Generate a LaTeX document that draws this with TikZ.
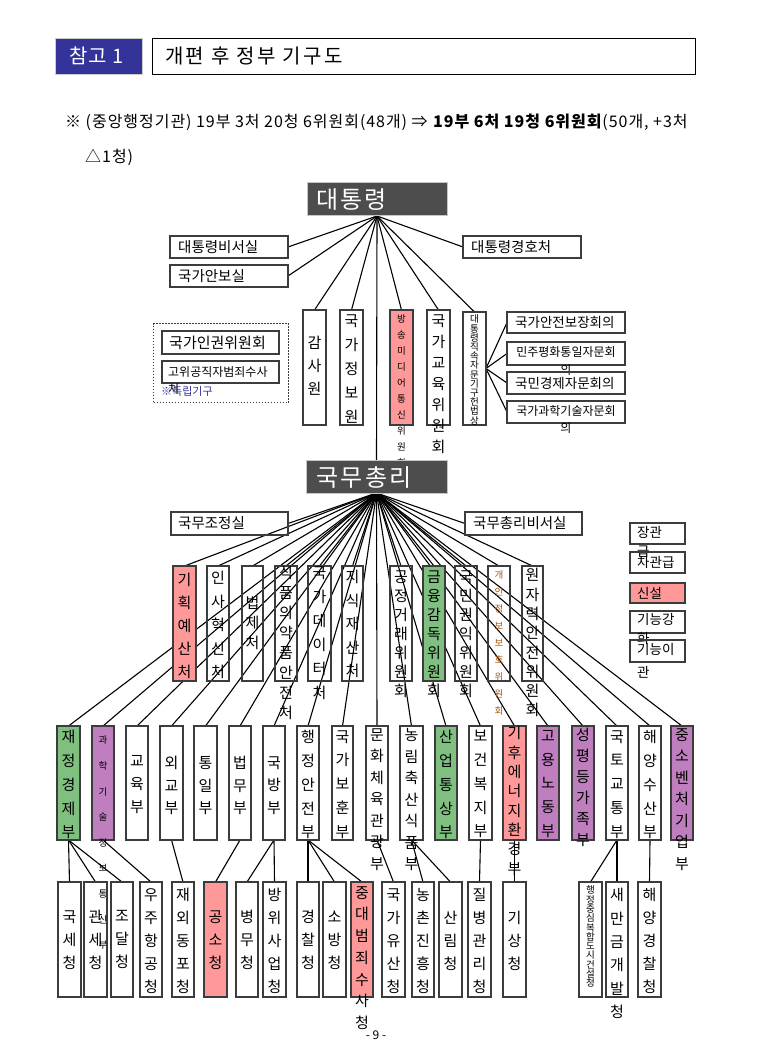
\documentclass[tikz,border=0pt]{standalone}
\usepackage{fontspec}
\setmainfont{Noto Sans CJK KR}
\pgfdeclarelayer{back}
\pgfdeclarelayer{lines}
\pgfsetlayers{back,lines,main}
\definecolor{bd}{HTML}{3C3C3C}
\definecolor{pinkc}{HTML}{FF9999}
\definecolor{greenc}{HTML}{7FBF7F}
\definecolor{vio}{HTML}{BF7FBF}
\definecolor{darkc}{HTML}{4D4D4D}
\definecolor{navy}{HTML}{333399}
\definecolor{orng}{HTML}{A85A10}
\newcommand\kvf[2]{\fontsize{#1}{#2}\selectfont\lineskiplimit=-100pt\lineskip=0pt\relax}
\newcommand\orgv[9]{%
 \node[#2,anchor=north west,minimum width={(#4-#3)*1pt},minimum height={(#6-#5)*1pt}] (#1) at (#3,#5) {};
 \node[#8] (#1t) at ({(#3+#4)/2},#7) {#9};}
\newcommand\orgh[9]{%
 \node[#2,anchor=north west,minimum width={(#4-#3)*1pt},minimum height={(#6-#5)*1pt}] (#1) at (#3,#5) {};
 \node[ht=#8] (#1t) at (#7,{(#5+#6)/2}) {#9};}
\tikzset{
 ln/.style={line width=1.1pt, black},
 bx/.style={draw=bd, line width=1.4pt, inner sep=0pt, outer sep=0pt},
 wbox/.style={bx},
 pbox/.style={bx, fill=pinkc},
 gbox/.style={bx, fill=greenc},
 vbx/.style={bx, fill=vio},
 dbox/.style={draw=gray!45, line width=1pt, fill=darkc, inner sep=0pt, outer sep=0pt},
 vt/.style={anchor=north, align=center, inner sep=0pt, yshift=6.7pt, font={\kvf{15}{#1}}},
 vs/.style={anchor=north, align=center, inner sep=0pt, yshift=4.2pt, font={\kvf{9.5}{#1}}},
 ht/.style={anchor=west, inner sep=0pt, font={\kvf{#1}{#1}}},
 lt/.style={anchor=north west, align=left, inner sep=0pt, yshift=6pt, font={\kvf{13.5}{#1}}},
}
\begin{document}
\begin{tikzpicture}[x=1pt,y=-1pt]
\useasboundingbox (0,0) rectangle (759,1048);
\begin{pgfonlayer}{back}
\fill[white] (0,0) rectangle (759,1048);
\end{pgfonlayer}
% header
\node[fill=navy, draw=gray!40, line width=0.8pt, anchor=north west, minimum width=87pt, minimum height=36pt, inner sep=0pt] (ref) at (55,38) {};
\node[anchor=west, inner sep=0pt, text=white, font={\kvf{20}{20}\addfontfeature{LetterSpace=5}}] (reft) at (69,56) {참고 1};
\node[draw=black, line width=1pt, anchor=north west, minimum width=543pt, minimum height=36pt, inner sep=0pt] (title) at (152,38) {};
\node[anchor=west, inner sep=0pt, font={\kvf{20}{20}\addfontfeature{LetterSpace=12}}] (titlet) at (165,56) {개편 후 정부 기구도};
\node[anchor=west, inner sep=0pt, font={\kvf{16}{16}\addfontfeature{LetterSpace=6}}] (note1) at (65,122) {※ (중앙행정기관) 19부 3처 20청 6위원회(48개) ⇒ \textbf{19부 6처 19청 6위원회}(50개, +3처};
\node[anchor=west, inner sep=0pt, font={\kvf{16}{16}\addfontfeature{LetterSpace=6}}] (note2) at (85,157) {△1청)};
% president level
\orgh{sec}{wbox}{170}{288}{236}{258}{178}{14.5}{대통령비서실}
\orgh{nsa}{wbox}{170}{288}{265}{287}{178}{14.5}{국가안보실}
\orgh{pss}{wbox}{463}{581}{236}{258}{471}{14.5}{대통령경호처}
% independent
\node[draw=bd, line width=1pt, dash pattern=on 1.5pt off 1.5pt, anchor=north west, minimum width=135pt, minimum height=79pt, inner sep=0pt] (indep) at (153,323) {};
\orgh{nhrc}{wbox}{162}{279}{331}{354}{169}{15}{국가인권위원회}
\node[wbox, anchor=north west, minimum width=117pt, minimum height=22pt] (cio) at (162,361) {};
\node[anchor=north west, align=left, inner sep=0pt, yshift=5.5pt, font={\kvf{12}{17}}] (ciot) at (168,372) {고위공직자범죄수사\\처};
\node[anchor=west, inner sep=0pt, font={\kvf{11}{11}}, text=navy] (indept) at (161,391) {※독립기구};
% committees
\orgv{gam}{wbox}{303}{326}{310}{425}{343}{vt=23}{감\\사\\원}
\orgv{nis}{wbox}{340}{363}{310}{425}{321}{vt=24}{국\\가\\정\\보\\원}
\orgv{bang}{pbox}{390}{413}{310}{425}{319}{vs=16}{방\\송\\미\\디\\어\\통\\신\\위\\원\\회}
\orgv{edu}{wbox}{427}{450}{310}{425}{321}{vt=21}{국\\가\\교\\육\\위\\원\\회}
\orgv{adv}{wbox}{463}{486}{312}{425}{319}{vs=9.2}{대\\통\\령\\직\\속\\자\\문\\기\\구\\헌\\법\\상}
\orgh{nsc}{wbox}{507}{625}{312}{333}{515}{13.5}{국가안전보장회의}
\node[wbox, anchor=north west, minimum width=118pt, minimum height=23pt] (pua) at (507,342) {};
\node[anchor=north, align=center, inner sep=0pt, yshift=5.5pt, font={\kvf{12}{18}}] (puat) at (566,352) {민주평화통일자문회\\의};
\orgh{nec}{wbox}{507}{625}{372}{394}{515}{13.5}{국민경제자문회의}
\node[wbox, anchor=north west, minimum width=118pt, minimum height=22pt] (pacst) at (507,401) {};
\node[anchor=north, align=center, inner sep=0pt, yshift=5.5pt, font={\kvf{12}{17}}] (pacstt) at (566,411) {국가과학기술자문회\\의};
% PM level
\orgh{opm}{wbox}{171}{288}{512}{535}{178}{14.5}{국무조정실}
\orgh{pmsec}{wbox}{465}{582}{512}{535}{473}{14.5}{국무총리비서실}
% row 2
\orgv{gi}{pbox}{173}{196}{566}{681}{580}{vt=23}{기\\획\\예\\산\\처}
\orgv{insa}{wbox}{207}{229}{566}{681}{578}{vt=23.5}{인\\사\\혁\\신\\처}
\orgv{beop}{wbox}{242}{263}{566}{681}{603}{vt=20}{법\\제\\처}
\orgv{food}{wbox}{275}{297}{566}{681}{573}{vt=20}{식\\품\\의\\약\\품\\안\\전\\처}
\orgv{data}{wbox}{308}{331}{566}{681}{573}{vt=24}{국\\가\\데\\이\\터\\처}
\orgv{ip}{wbox}{342}{363}{566}{681}{577}{vt=23.5}{지\\식\\재\\산\\처}
\orgv{ftc}{wbox}{390}{412}{566}{681}{577}{vt=19}{공\\정\\거\\래\\위\\원\\회}
\orgv{fsc}{gbox}{423}{445}{566}{681}{577}{vt=19}{금\\융\\감\\독\\위\\원\\회}
\orgv{acrc}{wbox}{455}{477}{566}{681}{577}{vt=19}{국\\민\\권\\익\\위\\원\\회}
\orgv{pipc}{wbox}{488}{510}{566}{681}{575}{vs=17,text=orng}{개\\인\\정\\보\\보\\호\\위\\원\\회}
\orgv{nssc}{wbox}{522}{543}{566}{681}{575}{vt=19.3}{원\\자\\력\\안\\전\\위\\원\\회}
% legend
\node[bx, line width=2pt, anchor=north west, minimum width=55pt, minimum height=21pt] (lg1) at (630,523) {};
\node[lt=19] (lg1t) at (637,532) {장관\\급};
\node[wbox, anchor=north west, minimum width=55pt, minimum height=21pt] (lg2) at (630,552) {};
\node[lt=19] (lg2t) at (637,562) {차관급};
\node[pbox, anchor=north west, minimum width=55pt, minimum height=20pt] (lg3) at (630,583) {};
\node[lt=19] (lg3t) at (637,593) {신설};
\node[wbox, anchor=north west, minimum width=55pt, minimum height=22pt] (lg4) at (630,611) {};
\node[lt=19] (lg4t) at (637,619) {기능강\\화};
\node[wbox, anchor=north west, minimum width=55pt, minimum height=22pt] (lg5) at (630,640) {};
\node[lt=23] (lg5t) at (637,649) {기능이\\관};
% row 3
\orgv{mof}{gbox}{57}{80}{726}{840}{737}{vt=23.7}{재\\정\\경\\제\\부}
\orgv{msit}{vbx}{92}{114}{726}{840}{740}{vs=25.6}{과\\학\\기\\술\\정\\보\\통\\신\\부}
\orgv{moe}{wbox}{126}{148}{726}{840}{762}{vt=23}{교\\육\\부}
\orgv{mofa}{wbox}{160}{183}{726}{840}{763}{vt=22.5}{외\\교\\부}
\orgv{mou}{wbox}{194}{217}{726}{840}{763}{vt=22.5}{통\\일\\부}
\orgv{moj}{wbox}{229}{251}{726}{840}{763}{vt=22.5}{법\\무\\부}
\orgv{mnd}{wbox}{263}{285}{726}{840}{763}{vt=22.5}{국\\방\\부}
\orgv{mois}{wbox}{297}{319}{726}{840}{737}{vt=23.7}{행\\정\\안\\전\\부}
\orgv{mpva}{wbox}{332}{353}{726}{840}{737}{vt=23.7}{국\\가\\보\\훈\\부}
\orgv{mcst}{wbox}{366}{388}{726}{840}{735}{vt=21.5}{문\\화\\체\\육\\관\\광\\부}
\orgv{mafra}{wbox}{400}{423}{726}{840}{735}{vt=21.5}{농\\림\\축\\산\\식\\품\\부}
\orgv{moti}{gbox}{435}{457}{726}{840}{737}{vt=23.7}{산\\업\\통\\상\\부}
\orgv{mohw}{wbox}{469}{492}{726}{840}{737}{vt=23.7}{보\\건\\복\\지\\부}
\orgv{mce}{pbox}{503}{526}{726}{840}{733}{vt=19.3}{기\\후\\에\\너\\지\\환\\경\\부}
\orgv{mol}{vbx}{537}{559}{726}{840}{737}{vt=23.7}{고\\용\\노\\동\\부}
\orgv{mogef}{vbx}{572}{594}{726}{840}{735}{vt=21}{성\\평\\등\\가\\족\\부}
\orgv{molit}{wbox}{606}{628}{726}{840}{737}{vt=23.7}{국\\토\\교\\통\\부}
\orgv{mofs}{wbox}{639}{661}{726}{840}{737}{vt=23.7}{해\\양\\수\\산\\부}
\orgv{mss}{vbx}{671}{693}{726}{840}{735}{vt=21.5}{중\\소\\벤\\처\\기\\업\\부}
% row 4
\orgv{nts}{wbox}{58}{81}{882}{997}{917}{vt=23}{국\\세\\청}
\orgv{kcs}{wbox}{84}{107}{882}{997}{917}{vt=23}{관\\세\\청}
\orgv{pps}{wbox}{111}{133}{882}{997}{917}{vt=23}{조\\달\\청}
\orgv{kasa}{wbox}{140}{162}{882}{997}{895}{vt=23}{우\\주\\항\\공\\청}
\orgv{oka}{wbox}{172}{194}{882}{997}{895}{vt=23}{재\\외\\동\\포\\청}
\orgv{pros}{pbox}{204}{227}{882}{997}{917}{vt=23}{공\\소\\청}
\orgv{mma}{wbox}{236}{258}{882}{997}{917}{vt=23}{병\\무\\청}
\orgv{dapa}{wbox}{263}{286}{882}{997}{895}{vt=23}{방\\위\\사\\업\\청}
\orgv{knpa}{wbox}{297}{319}{882}{997}{917}{vt=23}{경\\찰\\청}
\orgv{nfa}{wbox}{323}{346}{882}{997}{917}{vt=23}{소\\방\\청}
\orgv{sci}{pbox}{351}{373}{882}{997}{893}{vt=21.7}{중\\대\\범\\죄\\수\\사\\청}
\orgv{kh}{wbox}{382}{405}{882}{997}{895}{vt=23}{국\\가\\유\\산\\청}
\orgv{rda}{wbox}{412}{434}{882}{997}{895}{vt=23}{농\\촌\\진\\흥\\청}
\orgv{kfs}{wbox}{439}{462}{882}{997}{918}{vt=23}{산\\림\\청}
\orgv{kdca}{wbox}{468}{491}{882}{997}{895}{vt=23}{질\\병\\관\\리\\청}
\orgv{kma}{wbox}{503}{526}{882}{997}{918}{vt=23}{기\\상\\청}
\orgv{macc}{wbox}{579}{602}{882}{997}{890}{vs=9.3}{행\\정\\중\\심\\복\\합\\도\\시\\건\\설\\청}
\orgv{sdia}{wbox}{606}{628}{882}{997}{895}{vt=23.3}{새\\만\\금\\개\\발\\청}
\orgv{kcg}{wbox}{638}{661}{882}{997}{895}{vt=23}{해\\양\\경\\찰\\청}
\node[anchor=center, inner sep=0pt, font={\kvf{12}{12}}] (page) at (376,1035) {- 9 -};
% top boxes drawn last
\node[dbox, anchor=north west, minimum width=140pt, minimum height=33pt] (pres) at (307,183) {};
\node[anchor=west, inner sep=0pt, text=white, font={\kvf{24}{24}\addfontfeature{LetterSpace=8}}] (prest) at (316,200) {대통령};
\node[dbox, anchor=north west, minimum width=141pt, minimum height=33pt] (pm) at (306,460) {};
\node[anchor=west, inner sep=0pt, text=white, font={\kvf{24}{24}\addfontfeature{LetterSpace=10}}] (pmt) at (316,477) {국무총리};
% connectors
\begin{pgfonlayer}{lines}
\foreach \n in {sec,nsa} \draw[ln] (pres.south) -- (\n.east);
\draw[ln] (pres.south) -- (pss.west);
\foreach \n in {gam,nis,pm,bang,edu,adv} \draw[ln] (pres.south) -- (\n.north);
\foreach \n in {nsc,pua,nec,pacst} \draw[ln] (adv.east) -- (\n.west);
\draw[ln] (pm.south) -- (opm.east);
\draw[ln] (pm.south) -- (pmsec.west);
\foreach \n in {gi,insa,beop,food,data,ip,ftc,fsc,acrc,pipc,nssc,mof,msit,moe,mofa,mou,moj,mnd,mois,mpva,mcst,mafra,moti,mohw,mce,mol,mogef,molit,mofs,mss}
  \draw[ln] (pm.south) -- (\n.north);
\foreach \n in {nts,kcs,pps} \draw[ln] (mof.south) -- (\n.north);
\draw[ln] (msit.south) -- (kasa.north);
\draw[ln] (mofa.south) -- (oka.north);
\draw[ln] (moj.south) -- (pros.north);
\foreach \n in {mma,dapa} \draw[ln] (mnd.south) -- (\n.north);
\foreach \n in {knpa,nfa,sci} \draw[ln] (mois.south) -- (\n.north);
\draw[ln] (mcst.south) -- (kh.north);
\foreach \n in {rda,kfs} \draw[ln] (mafra.south) -- (\n.north);
\draw[ln] (mohw.south) -- (kdca.north);
\draw[ln] (mce.south) -- (kma.north);
\foreach \n in {macc,sdia} \draw[ln] (molit.south) -- (\n.north);
\draw[ln] (mofs.south) -- (kcg.north);
\end{pgfonlayer}
\end{tikzpicture}
\end{document}
